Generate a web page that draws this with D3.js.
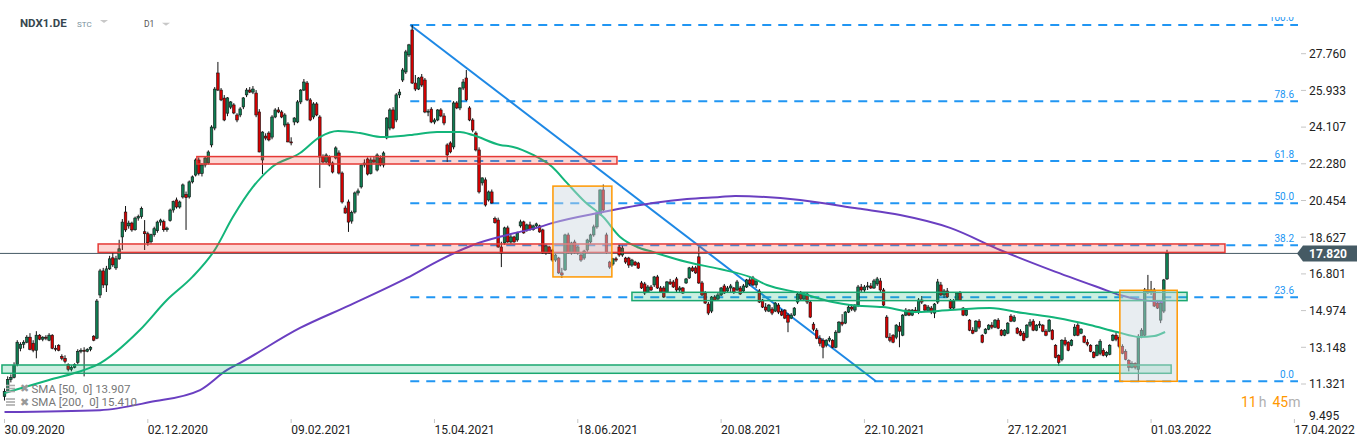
<!DOCTYPE html>
<html>
<head>
<meta charset="utf-8">
<style>
  body { margin: 0; background: #fff; }
  svg { display: block; font-family: Roboto, "Noto Sans", sans-serif; }
</style>
</head>
<body>
<svg id="chart" width="1368" height="446"></svg>
<script src="https://cdn.jsdelivr.net/npm/d3@7/dist/d3.min.js"></script>
<script>
// one label every 45 sessions
var dateLabels = ["30.09.2020", "02.12.2020", "09.02.2021", "15.04.2021", "18.06.2021",
  "20.08.2021", "22.10.2021", "27.12.2021", "01.03.2022", "17.04.2022"];
var dateStep = 45;
var priceTicks = [9.495, 11.321, 13.148, 14.974, 16.801, 18.627, 20.454, 22.280, 24.107, 25.933, 27.760];

// daily candles [open, high, low, close]
var ohlc = [
[10.70,11.10,10.50,10.95],[10.95,11.70,10.90,11.55],[11.55,11.80,11.40,11.65],[11.65,12.40,11.60,12.25],
[12.30,13.50,12.20,13.40],[13.10,13.40,12.95,13.30],[13.30,13.50,13.10,13.40],[13.40,13.75,13.35,13.65],
[13.65,13.85,13.00,13.05],[13.35,13.50,12.90,13.00],[13.00,13.95,12.60,13.75],[13.75,13.80,13.50,13.55],
[13.55,13.70,13.45,13.65],[13.65,13.75,13.50,13.60],[13.50,13.85,13.45,13.75],[13.75,13.80,13.05,13.10],
[13.10,13.25,12.95,13.05],[13.25,13.30,12.95,13.00],[12.70,12.80,12.50,12.60],[12.60,12.75,12.35,12.45],
[12.30,12.35,11.95,12.05],[12.05,12.25,11.95,12.15],[12.15,12.35,12.10,12.30],[12.40,13.05,12.30,12.95],
[12.95,13.10,12.85,13.00],[13.00,13.15,11.70,12.95],[12.95,13.10,12.90,13.05],[13.05,13.20,12.95,13.15],
[13.70,13.75,13.45,13.50],[13.60,15.55,13.55,15.45],[15.75,17.05,15.60,16.95],[16.95,17.10,16.10,16.25],
[16.25,17.20,15.90,17.05],[17.05,17.70,17.00,17.55],[17.60,17.85,17.15,17.25],[17.10,17.70,17.00,17.55],
[17.55,18.50,17.50,18.05],
[18.64,19.53,17.99,19.38],[19.88,20.18,18.89,18.99],[19.19,19.45,19.05,19.33],[19.33,19.40,18.90,18.99],
[19.00,19.65,18.95,19.58],[19.58,19.75,19.45,19.65],[19.65,20.15,19.55,20.05],[18.90,19.48,17.99,18.80],
[18.80,18.90,18.20,18.35],[18.40,18.80,18.30,18.75],[18.75,19.15,18.65,19.05],[18.95,19.45,18.85,19.38],
[19.38,19.55,19.20,19.48],[19.40,19.50,18.90,19.00],[19.00,19.15,18.90,19.08],[19.45,20.05,19.40,19.98],
[19.98,20.45,19.85,20.40],[20.48,20.60,20.05,20.13],[20.13,20.45,20.05,20.38],[20.63,21.30,20.55,21.23],
[20.75,20.90,18.99,20.60],[20.63,21.45,20.55,21.38],[21.38,21.70,21.30,21.63],[21.72,22.55,21.65,22.47],
[22.47,22.60,21.70,21.80],[21.80,22.30,21.65,22.22],[22.22,22.65,22.10,22.57],[22.32,22.95,22.25,22.87],
[23.22,24.20,23.10,24.11],[24.06,26.10,23.95,26.00],[26.80,27.35,25.90,25.95],[25.95,26.05,25.40,25.46],
[25.55,25.70,24.40,24.46],[24.80,25.60,24.65,25.56],[25.10,25.40,25.00,25.36],[25.21,25.30,24.75,24.81],
[24.71,24.80,24.35,24.46],[24.71,25.10,24.60,25.01],[25.11,25.60,25.00,25.56],[25.71,26.05,25.60,25.95],
[25.95,26.10,25.80,25.85],[25.85,26.15,25.75,26.00],[25.80,25.95,24.60,24.71],[24.86,25.00,22.85,22.87],
[22.47,23.90,21.77,23.86],[23.66,23.80,23.45,23.56],[23.81,23.90,23.40,23.47],[23.61,24.70,23.50,24.61],
[24.61,25.05,24.55,24.96],[24.96,25.10,24.80,24.86],[24.86,24.95,24.55,24.61],[24.21,24.80,24.10,24.71],
[24.26,24.35,23.35,23.37],[23.37,23.60,23.20,23.32],[24.36,24.60,24.20,24.56],[24.36,25.45,24.30,25.36],
[25.36,26.00,25.25,25.95],[25.95,26.50,25.90,26.35],[26.30,26.40,25.40,25.46],[25.46,25.55,24.40,24.46],
[24.61,25.35,24.50,25.26],[25.26,25.35,24.65,24.71],[24.61,24.70,21.08,22.62],[22.62,22.75,22.30,22.37],
[22.37,22.80,22.30,22.72],[22.62,22.70,22.15,22.22],[22.32,22.40,21.80,21.87],[22.57,23.15,22.50,23.07],
[22.82,22.95,21.75,21.82],[21.82,21.90,20.30,20.38],[20.08,20.20,19.80,19.83],[20.38,20.50,18.89,19.38],
[19.43,19.95,19.30,19.85],[19.88,20.90,19.80,20.83],[20.83,21.05,20.70,20.93],[21.13,22.25,21.05,22.22],
[22.22,22.50,22.10,22.32],[22.52,22.60,21.70,21.77],[21.80,22.60,21.75,22.47],[22.47,22.65,22.30,22.37],
[21.97,22.80,21.90,22.72],[22.57,22.70,22.15,22.22],[22.22,22.90,22.10,22.82],[23.57,24.60,23.50,24.56],
[24.06,25.05,23.95,24.96],[24.96,25.10,24.00,24.06],[24.46,25.80,24.35,25.71],[25.71,26.00,25.55,25.85],
[26.45,27.05,26.35,26.95],[26.85,27.95,26.75,27.85],[27.70,28.25,27.60,28.20],[28.94,29.19,26.25,26.30],
[26.30,26.70,25.90,26.00],[26.00,26.60,25.95,26.55],[26.60,26.75,26.10,26.20],[26.45,26.55,24.80,24.86],
[24.86,25.00,24.65,24.90],[25.00,25.10,24.30,24.36],[24.36,24.55,24.25,24.46],[24.46,25.00,24.40,24.96],
[24.96,25.05,24.60,24.66],[24.66,24.80,24.20,24.31],[23.22,23.30,22.37,22.72],[23.32,23.40,22.80,22.87],
[23.12,25.40,23.00,25.31],[25.31,25.40,25.00,25.06],[25.06,26.10,24.95,26.05],[26.05,26.50,25.95,26.35],
[26.55,26.95,25.40,25.46],[25.06,25.15,24.40,24.46],[24.46,24.55,23.85,23.96],[23.81,23.90,22.90,22.97],
[22.97,23.10,20.80,20.88],[21.33,21.60,21.20,21.58],[21.48,21.60,20.15,20.23],[20.48,20.95,20.40,20.88],
[20.88,21.00,20.30,20.33],[19.55,19.65,19.30,19.35],[19.48,19.60,18.10,18.14],[18.14,18.40,17.14,17.84],
[18.34,19.15,18.25,19.09],[19.09,19.20,18.35,18.39],[18.39,18.75,18.30,18.64],[18.64,18.70,18.35,18.39],
[18.49,18.90,18.40,18.84],[19.19,19.50,19.10,19.39],[19.39,19.45,18.80,18.84],[18.99,19.30,18.90,19.24],
[19.24,19.40,18.95,19.00],[19.00,19.25,18.95,19.19],[19.19,19.35,19.10,19.29],[19.19,19.25,18.85,18.89],
[18.99,19.05,17.80,17.84],[17.84,18.25,17.75,18.19],[18.14,18.20,17.80,17.84],[17.99,18.05,17.40,17.49],
[17.49,17.80,17.40,17.74],[17.59,17.65,16.80,16.85],[16.85,17.10,16.60,16.75],[17.00,18.80,16.95,18.74],
[18.74,18.85,17.80,17.84],[17.84,18.40,17.75,18.34],[18.39,18.50,17.80,17.84],[17.84,18.20,17.75,18.14],
[17.74,17.80,17.40,17.49],[17.59,18.00,17.50,17.94],[17.99,18.55,17.90,18.49],[18.39,18.80,18.30,18.74],
[18.74,19.25,18.65,19.14],[19.14,19.85,19.05,19.83],[19.78,21.00,19.70,20.98],[20.98,21.25,19.90,19.98],
[18.74,18.85,17.80,17.89],[17.39,17.45,17.05,17.14],[17.29,17.60,17.20,17.55],[17.55,17.65,17.40,17.49],
[18.14,18.25,17.65,17.74],[17.74,18.20,17.65,18.09],[17.59,17.65,17.30,17.39],[17.59,17.65,17.10,17.24],
[17.24,17.55,17.15,17.49],[17.39,17.45,17.20,17.24],[17.34,17.40,17.05,17.09],[16.35,16.45,16.05,16.10],
[16.30,16.40,15.75,15.85],[15.90,16.25,15.85,16.15],[16.15,16.25,15.95,16.00],
[16.25,16.70,16.15,16.65],[16.65,16.75,16.05,16.10],[16.10,16.20,15.85,15.90],[16.10,16.20,15.60,15.65],
[15.90,16.45,15.85,16.40],[16.40,16.55,16.25,16.30],[16.40,16.50,16.10,16.15],[16.55,16.65,15.90,16.00],
[16.00,16.20,15.90,16.10],[16.10,16.15,15.80,15.85],[16.35,16.60,16.30,16.55],[16.60,17.15,16.55,17.10],
[17.10,17.20,16.90,16.95],[17.10,17.20,16.80,16.85],[17.65,18.15,16.30,16.35],[16.35,16.45,15.70,15.75],
[15.85,15.95,15.30,15.35],[15.30,15.40,14.75,14.85],[14.95,15.70,14.85,15.65],[15.65,15.75,15.45,15.50],
[15.55,15.85,15.50,15.75],[15.75,16.15,15.70,16.10],[16.20,16.30,15.80,15.85],[15.95,16.20,15.90,16.10],
[16.10,16.30,15.85,16.20],[16.10,16.15,15.80,15.90],[16.00,16.50,15.95,16.40],[16.10,16.20,15.75,15.80],
[15.95,16.30,15.90,16.20],[16.15,16.55,16.10,16.50],[16.50,16.65,16.20,16.30],[16.60,16.70,16.20,16.25],
[16.25,16.55,16.10,16.45],[15.95,16.05,15.35,15.40],[15.50,15.55,15.10,15.15],[15.15,15.35,14.90,15.00],
[14.95,15.30,14.90,15.25],[15.05,15.15,14.75,14.85],[14.95,15.40,14.90,15.35],[15.25,15.35,14.80,14.90],
[14.95,15.05,14.70,14.75],[15.00,15.05,14.55,14.60],[14.75,14.85,13.90,14.40],[14.60,14.85,14.55,14.75],
[14.75,15.15,14.70,15.10],[15.40,15.85,15.30,15.80],[15.80,15.95,15.50,15.55],[15.55,15.85,15.50,15.80],
[15.80,15.90,15.30,15.40],[15.40,15.50,14.60,14.65],[14.30,14.40,13.95,14.05],[14.00,14.10,13.55,13.60],
[13.60,13.75,13.20,13.35],[13.50,13.60,12.60,13.15],[13.25,13.55,13.15,13.50],[13.50,13.70,13.40,13.60],
[13.50,13.55,13.10,13.15],[13.15,14.00,13.10,13.90],[13.90,14.45,13.85,14.40],[14.40,14.80,14.20,14.30],
[14.35,14.95,14.30,14.90],[14.90,15.25,14.85,15.15],[15.15,15.30,14.95,15.05],[15.00,15.30,14.90,15.25],
[15.25,16.25,15.15,16.15],[16.15,16.30,15.90,16.00],[16.00,16.25,15.90,16.15],[16.15,16.40,16.00,16.20],
[16.20,16.35,16.05,16.10],[16.10,16.55,16.05,16.45],[16.30,16.65,16.20,16.55],[16.45,16.60,15.90,16.00],
[16.00,16.10,15.20,15.25],[14.65,14.75,13.60,13.65],[13.65,13.85,13.40,13.50],[13.75,13.80,13.35,13.40],
[13.65,14.30,13.55,14.25],[14.20,14.40,13.15,13.95],[13.75,14.80,13.70,14.75],[14.75,15.10,14.70,15.00],
[15.00,15.05,14.70,14.75],[14.75,15.05,14.70,15.00],[15.00,15.15,14.85,14.90],[14.90,15.60,14.80,15.50],
[15.50,15.70,15.30,15.40],[15.25,15.30,14.95,15.00],[14.95,15.25,14.90,15.15],[15.10,15.20,14.80,14.90],
[14.85,15.35,14.60,15.30],[15.40,16.55,15.30,16.40],[16.25,16.40,15.70,15.75],[15.75,16.05,15.60,15.95],
[15.95,16.10,15.60,15.65],[15.45,15.55,15.05,15.10],[15.10,15.55,15.05,15.45],[15.50,15.90,15.45,15.85],
[15.85,15.95,15.45,15.50],[15.10,15.15,14.70,14.75],[14.75,15.05,14.70,15.00],[14.50,14.55,13.95,14.00],
[14.00,14.15,13.80,13.85],[13.95,14.50,13.90,14.45],[14.45,14.55,14.05,14.15],[13.75,13.80,13.35,13.40],
[13.85,14.10,13.80,14.05],[14.05,14.30,14.00,14.25],[14.25,14.40,14.05,14.15],[14.15,14.55,14.10,14.50],
[14.50,14.60,14.05,14.10],[14.00,14.05,13.70,13.75],[13.75,14.05,13.70,14.00],[13.85,14.40,13.80,14.35],
[14.70,14.80,14.40,14.45],[14.45,14.75,14.40,14.65],[14.10,14.15,13.80,13.85],[13.95,14.05,13.70,13.75],
[13.85,13.95,13.45,13.50],[13.65,14.30,13.60,14.25],[14.25,14.55,14.15,14.40],[14.45,14.55,13.95,14.00],
[14.00,14.30,13.95,14.25],[14.25,14.45,14.10,14.30],[14.25,14.30,13.90,13.95],[13.95,14.05,13.70,13.75],
[13.95,14.55,13.90,14.50],[14.00,14.05,13.50,13.55],[13.25,13.30,12.60,12.65],[12.75,12.80,12.22,12.40],
[12.55,13.55,12.45,13.50],[13.50,13.65,13.20,13.30],[13.40,13.45,12.95,13.00],[13.25,13.55,13.20,13.50],
[13.75,14.30,13.70,14.15],[14.25,14.35,13.70,13.75],[13.85,14.10,13.80,14.05],[13.70,13.75,13.35,13.40],
[13.40,13.55,13.20,13.30],[13.25,13.30,12.90,12.95],[12.90,12.95,12.60,12.65],[12.75,13.30,12.70,13.25],
[12.85,13.55,12.75,13.45],[13.00,13.10,12.70,12.75],[12.75,12.95,12.65,12.90],[12.80,13.30,12.75,13.25],
[13.50,13.80,13.45,13.75],[13.75,13.90,13.45,13.55],[13.65,13.75,13.10,13.20],[13.20,13.30,12.80,12.85],
[12.95,13.05,12.50,12.55],[12.50,12.55,11.95,12.15],[12.15,12.45,12.10,12.35],[12.35,12.40,12.05,12.15],
[12.05,13.80,11.43,13.70],[13.70,14.10,13.60,14.00],[13.75,16.10,13.70,16.00],[16.00,16.75,15.80,15.90],
[15.90,16.45,15.75,16.00],[16.00,16.10,15.15,15.20],[15.35,15.45,15.05,15.10],[14.50,15.40,14.35,15.35],
[14.95,16.55,14.85,16.50],[16.55,18.00,16.50,17.82]
];

// moving averages: [session index, value]
var sma50 = [[0,10.87],[14,11.52],[25,12.02],[29,12.27],[42.5,14.01],[51,15.50],[59,16.65],[66,17.99],
  [71.7,19.63],[78,21.13],[84,22.12],[92.8,22.82],[99,23.61],[104.7,23.91],[111.6,23.81],[118.8,23.61],
  [127.3,23.71],[135.8,23.86],[143,23.86],[147,23.71],[155.6,23.22],[159.7,23.12],[166,22.72],[172,22.12],
  [176.6,21.33],[182.3,20.38],[188,19.63],[193.3,18.64],[198.6,18.14],[203.6,17.89],[214.3,17.39],
  [224.6,17.04],[234,16.65],[239.4,16.25],[249.8,15.85],[260,15.40],[265.5,15.25],[275.8,15.15],
  [286.5,14.90],[296.9,15.00],[309.4,15.10],[319.8,14.85],[330.5,14.61],[340.8,14.26],[349.3,13.91],
  [356.5,13.66],[361,13.71],[364.4,13.91]];
var sma200 = [[0,9.93],[30,10.02],[45.7,10.42],[61.4,11.02],[69.9,12.02],[74,12.37],[92.8,14.11],
  [108.5,15.25],[126.4,16.60],[136.7,17.49],[147.1,18.24],[157.8,18.74],[168.1,19.14],[172.2,19.34],
  [187.9,19.88],[203.6,20.33],[214.3,20.53],[224.6,20.63],[229.4,20.68],[249.8,20.48],[268,20.05],
  [281.2,19.73],[296.9,19.09],[312.6,17.99],[328.6,16.99],[344,16.10],[350.2,15.75],
  [356.5,15.52],[363.7,15.40]];
var legendRows = [["SMA [50,  0]", 13.907], ["SMA [200,  0]", 15.410]];

// drawing objects
var fibLow = 11.455, fibHigh = 29.19, fibFrom = 127.4;
var fibLevels = [0, 23.6, 38.2, 50, 61.8, 78.6, 100];
var trendLine = [[127.4, 29.19], [273.6, 11.455]];
var lastPrice = 17.82;
// [from, to, bottom, top]
var redZones = [[60.4, 192.3, 22.27, 22.64], [29.4, 383.2, 17.87, 18.29]];
var greenZones = [[197, 371.3, 15.47, 15.885], [-0.8, 366.3, 11.854, 12.267]];
var boxes = [[172.2, 190.7, 16.65, 21.17], [350.2, 368.2, 11.455, 15.985]];

var svg = d3.select("#chart");
var plotRight = 1298;
var x = d3.scaleLinear().domain([0, 405]).range([4.5, 1294.4]);
var y = d3.scaleLinear().domain([11.321, 27.760]).range([384, 53.7]);
var fmt = d3.format(".3f");

svg.append("clipPath").attr("id", "plot")
  .append("rect").attr("x", 0).attr("y", 17).attr("width", plotRight).attr("height", 401);

var plot = svg.append("g").attr("clip-path", "url(#plot)");

// last price line
plot.append("line")
  .attr("x1", 0).attr("x2", plotRight)
  .attr("y1", y(lastPrice)).attr("y2", y(lastPrice))
  .attr("stroke", "#455a64").attr("stroke-width", 1);

// fibonacci retracement
fibLevels.forEach(function(l) {
  var v = fibLow + (fibHigh - fibLow) * l / 100;
  plot.append("line")
    .attr("x1", x(fibFrom)).attr("x2", plotRight)
    .attr("y1", y(v)).attr("y2", y(v))
    .attr("stroke", "#2196f3").attr("stroke-width", 2)
    .attr("stroke-dasharray", "9,7");
  plot.append("text")
    .attr("x", 1294).attr("y", y(v) - 3.5)
    .attr("text-anchor", "end")
    .attr("font-size", 10).attr("fill", "#2196f3")
    .text(l.toFixed(1));
});

// trend line
plot.append("line")
  .attr("x1", x(trendLine[0][0])).attr("y1", y(trendLine[0][1]))
  .attr("x2", x(trendLine[1][0])).attr("y2", y(trendLine[1][1]))
  .attr("stroke", "#1e88e5").attr("stroke-width", 2);

// candles
var bw = 2.6;
var candle = plot.append("g").selectAll("g")
  .data(ohlc).enter().append("g");
candle.append("line")
  .attr("x1", function(d, i) { return x(i); })
  .attr("x2", function(d, i) { return x(i); })
  .attr("y1", function(d) { return y(d[1]); })
  .attr("y2", function(d) { return y(d[2]); })
  .attr("stroke", "#111").attr("stroke-width", 1);
candle.append("rect")
  .attr("x", function(d, i) { return x(i) - bw / 2; })
  .attr("y", function(d) { return y(Math.max(d[0], d[3])); })
  .attr("width", bw)
  .attr("height", function(d) { return Math.max(1, Math.abs(y(d[0]) - y(d[3]))); })
  .attr("fill", function(d) { return d[3] >= d[0] ? "#0e7d52" : "#d50000"; })
  .attr("stroke", "#111").attr("stroke-width", 0.6);

// moving averages
var line = d3.line()
  .x(function(d) { return x(d[0]); })
  .y(function(d) { return y(d[1]); })
  .curve(d3.curveMonotoneX);
plot.append("path").datum(sma50).attr("d", line)
  .attr("fill", "none").attr("stroke", "#13b57a").attr("stroke-width", 2);
plot.append("path").datum(sma200).attr("d", line)
  .attr("fill", "none").attr("stroke", "#6a3fc1").attr("stroke-width", 2);

// zones and boxes
function zone(z, fill, stroke) {
  plot.append("rect")
    .attr("x", x(z[0])).attr("width", x(z[1]) - x(z[0]))
    .attr("y", y(z[3])).attr("height", y(z[2]) - y(z[3]))
    .attr("fill", fill).attr("stroke", stroke).attr("stroke-width", 1.5);
}
redZones.forEach(function(z) { zone(z, "rgba(244,67,54,0.22)", "#e53935"); });
greenZones.forEach(function(z) { zone(z, "rgba(20,180,120,0.22)", "#1aa870"); });
boxes.forEach(function(z) { zone(z, "rgba(205,215,225,0.45)", "#ff9800"); });

// price axis
var yAxis = svg.append("g");
priceTicks.forEach(function(t) {
  var ty = Math.min(y(t), 416);
  if (y(t) < 418) {
    yAxis.append("line").attr("x1", 1301).attr("x2", 1306)
      .attr("y1", y(t)).attr("y2", y(t)).attr("stroke", "#c5c5c5");
  }
  yAxis.append("text").attr("x", 1309).attr("y", ty).attr("dy", "0.36em")
    .attr("font-size", 12).attr("fill", "#222").text(fmt(t));
});

// last price tag
var ly = y(lastPrice);
svg.append("path")
  .attr("d", "M1297," + ly + "L1303," + (ly - 8) + "H1357V" + (ly + 8) + "H1303Z")
  .attr("fill", "#455a64");
svg.append("text").attr("x", 1309).attr("y", ly).attr("dy", "0.36em")
  .attr("font-size", 12).attr("font-weight", "bold").attr("fill", "#fff")
  .text(fmt(lastPrice));

// date axis
var xAxis = svg.append("g");
dateLabels.forEach(function(lab, k) {
  var tx = x(k * dateStep);
  xAxis.append("line").attr("x1", tx).attr("x2", tx).attr("y1", 419).attr("y2", 423)
    .attr("stroke", "#c5c5c5");
  xAxis.append("text").attr("x", tx).attr("y", 434)
    .attr("font-size", 12).attr("fill", "#222").text(lab);
});

// header
var head = svg.append("g");
head.append("text").attr("x", 20).attr("y", 27).attr("font-size", 11.5)
  .attr("font-weight", "bold").attr("fill", "#37474f").text("NDX1.DE");
head.append("text").attr("x", 77).attr("y", 26.5).attr("font-size", 8)
  .attr("fill", "#78909c").text("STC");
head.append("text").attr("x", 144).attr("y", 27.3).attr("font-size", 8.5)
  .attr("fill", "#555").text("D1");
[[100, 20], [162, 22.7]].forEach(function(p) {
  head.append("path")
    .attr("d", "M" + p[0] + "," + p[1] + "h8l-4,3z")
    .attr("fill", "#c8c8c8");
});

// legend
var leg = svg.append("g");
legendRows.forEach(function(r, k) {
  var cy = 388.5 + k * 13.5;
  [-3, 0, 3].forEach(function(o) {
    leg.append("line").attr("x1", 6).attr("x2", 15).attr("y1", cy + o).attr("y2", cy + o)
      .attr("stroke", "#aaa").attr("stroke-width", 1.6);
  });
  leg.append("text").attr("x", 20).attr("y", cy).attr("dy", "0.36em")
    .attr("font-size", 10.5).attr("fill", "#999").text("\u2716");
  leg.append("text").attr("x", 31.5).attr("y", cy).attr("dy", "0.36em")
    .attr("font-size", 11.5).attr("fill", "#777")
    .attr("xml:space", "preserve").style("white-space", "pre")
    .text(r[0] + " " + fmt(r[1]));
});

// countdown
var cd = svg.append("text").attr("x", 1241).attr("y", 406.5).attr("font-size", 14);
cd.append("tspan").attr("fill", "#ff9800").text("11");
cd.append("tspan").attr("fill", "#b0b0b0").attr("dx", 2).text("h");
cd.append("tspan").attr("fill", "#ff9800").attr("dx", 6).text("45");
cd.append("tspan").attr("fill", "#b0b0b0").text("m");
</script>
</body>
</html>
